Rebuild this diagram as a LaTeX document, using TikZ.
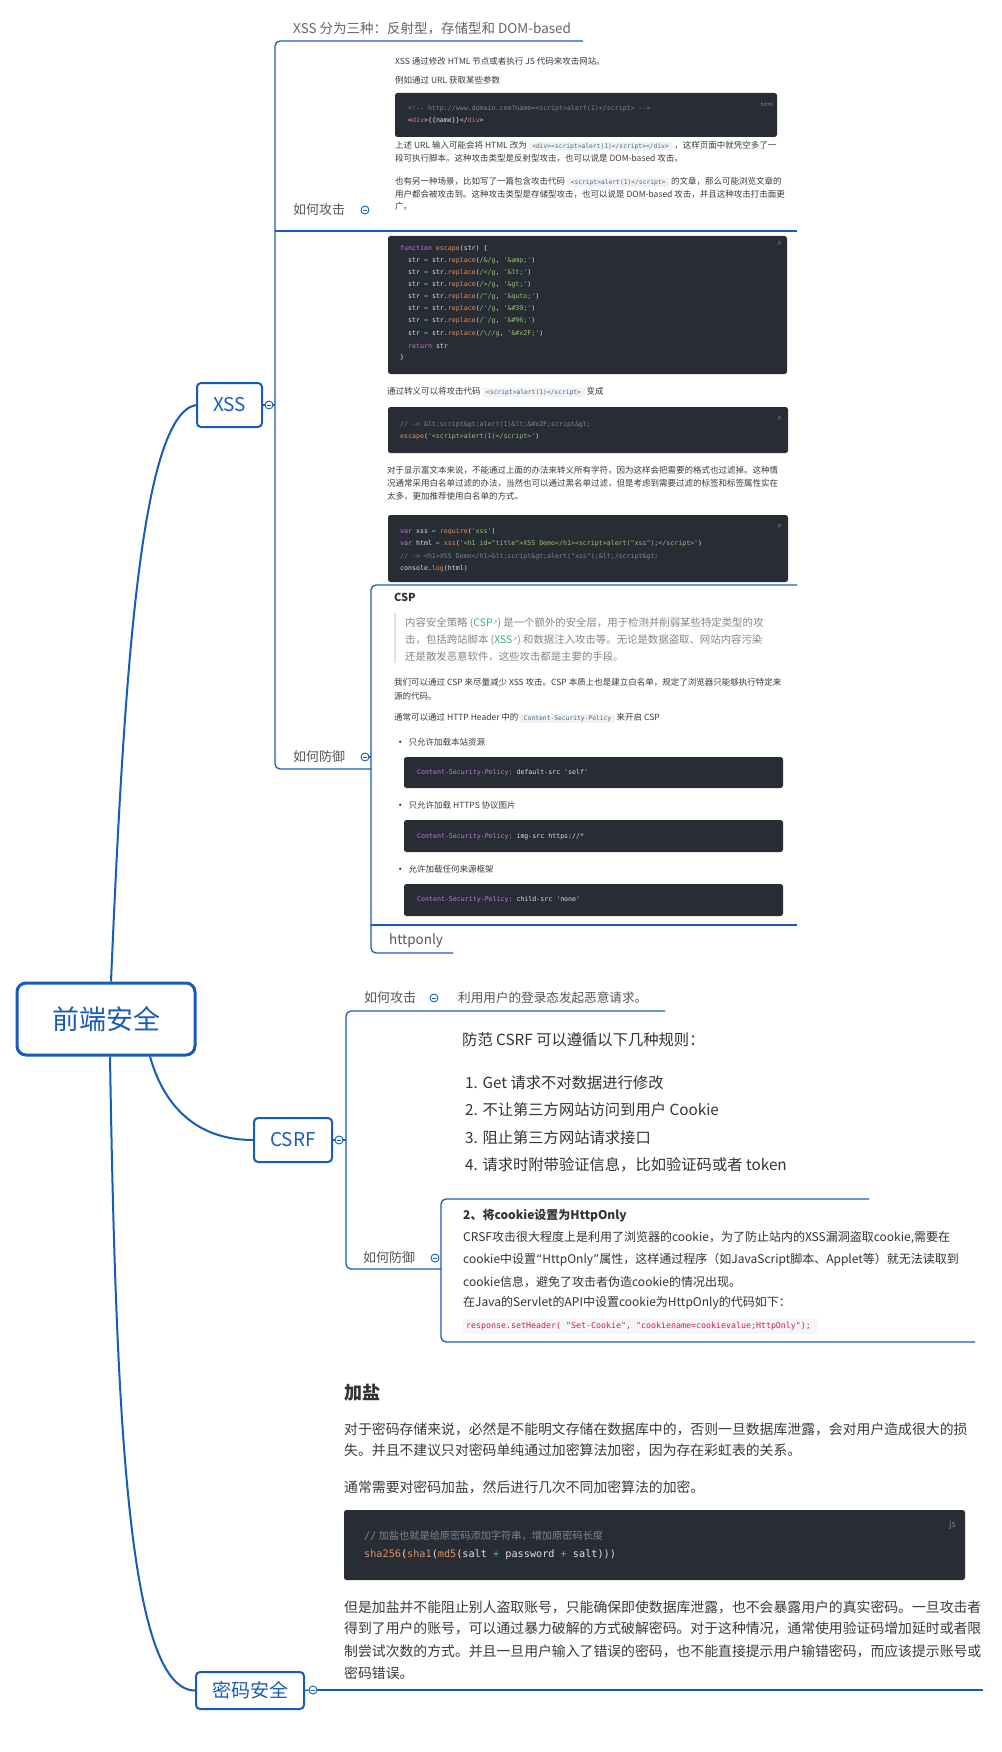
\documentclass[tikz,border=0pt]{standalone}
\usepackage{fontspec}
\setmainfont{Noto Sans CJK SC}
\setmonofont{DejaVu Sans Mono}
\newfontfamily\symfont{DejaVu Sans}

\definecolor{linecol}{HTML}{175CB8}
\definecolor{labelgray}{HTML}{555555}
\definecolor{bodytext}{HTML}{3A3A3A}
\definecolor{darktext}{HTML}{333333}
\definecolor{quotegray}{HTML}{858585}
\definecolor{quotebar}{HTML}{DFE2E5}
\definecolor{linkgreen}{HTML}{3EAF7C}
\definecolor{cbg}{HTML}{282C34}
\definecolor{cpl}{HTML}{DCDFE4}
\definecolor{ccom}{HTML}{7F848E}
\definecolor{ckw}{HTML}{C678DD}
\definecolor{cfn}{HTML}{E0915F}
\definecolor{cstr}{HTML}{98C379}
\definecolor{ctag}{HTML}{E06C75}
\definecolor{cop}{HTML}{56B6C2}
\definecolor{icbg}{HTML}{F1F2F3}
\definecolor{ictext}{HTML}{476582}
\definecolor{hobg}{HTML}{F6F6F6}
\definecolor{hotext}{HTML}{C7254E}

% syntax colouring helpers
\newcommand\hlkw[1]{\textcolor{ckw}{#1}}
\newcommand\hlfn[1]{\textcolor{cfn}{#1}}
\newcommand\hlstr[1]{\textcolor{cstr}{#1}}
\newcommand\hlcom[1]{\textcolor{ccom}{#1}}
\newcommand\hltag[1]{\textcolor{ctag}{#1}}
\newcommand\hlop[1]{\textcolor{cop}{#1}}
% inline code inside prose
\newcommand\icode[1]{{\setlength\fboxsep{1.6pt}\colorbox{icbg}{\hspace{2pt}\ttfamily\fontsize{6.3}{7}\selectfont\color{ictext}#1\hspace{2pt}}}}
% small external-link mark
\newcommand\extlink{{\symfont\fontsize{6}{6}\selectfont\textcolor{quotegray}{\raisebox{1.5pt}{↗}}}}
% narrow quotation marks
\newcommand\openq{{\symfont “}}
\newcommand\closeq{{\symfont ”}}

\tikzset{
  branch/.style={draw=linecol, line width=1.3pt},
  trunk/.style={draw=linecol, line width=2pt},
  rootbox/.style={draw=linecol, line width=3pt, rounded corners=9pt, fill=white,
    text=linecol, inner sep=0pt, font=\fontsize{27}{30}\selectfont},
  topicbox/.style={draw=linecol, line width=2pt, rounded corners=4pt, fill=white,
    text=linecol, inner sep=0pt, font=\fontsize{19}{22}\selectfont},
  toggle/.style={circle, draw=linecol, line width=0.9pt, fill=white, minimum size=8pt,
    inner sep=0pt, path picture={\draw[linecol, line width=0.8pt]
      ([xshift=1.8pt]path picture bounding box.west) --
      ([xshift=-1.8pt]path picture bounding box.east);}},
  tx/.style={anchor=west, inner sep=0pt},
  lbl/.style={tx, text=labelgray, font=\fontsize{13}{15}\selectfont},
  small/.style={tx, text=bodytext, font=\fontsize{8.5}{10}\selectfont},
  quote/.style={tx, text=quotegray, font=\fontsize{10.4}{12}\selectfont},
  codeln/.style={tx, text=cpl, font=\ttfamily\fontsize{6.6}{8}\selectfont},
  codetag/.style={anchor=east, inner sep=0pt, text=ccom, font=\fontsize{5.5}{6}\selectfont},
  codebg/.style={fill=cbg, rounded corners=2.5pt},
  csrftxt/.style={tx, text=darktext, font=\fontsize{15.3}{18}\selectfont},
  hotxt/.style={tx, text=darktext, font=\fontsize{12}{15}\selectfont},
  pwdtxt/.style={tx, text=bodytext, font=\fontsize{13.85}{17}\selectfont},
}

\begin{document}
\begin{tikzpicture}[x=1pt,y=-1pt]
\useasboundingbox (0,0) rectangle (1001,1752);
\fill[white] (0,0) rectangle (1001,1752);

% ---------------- main topics ----------------
\node[rootbox, minimum width=178pt, minimum height=72pt] (root) at (106,1019) {前端安全};
\node[topicbox, minimum width=65pt, minimum height=44pt] (xss) at (229.5,405) {XSS};
\node[topicbox, minimum width=78pt, minimum height=44pt] (csrf) at (293,1140) {CSRF};
\node[topicbox, minimum width=108pt, minimum height=37pt] (pwd) at (250,1690.5) {密码安全};

\node[toggle] (xssT) at (269,405) {};
\node[toggle] (csrfT) at (339,1140) {};
\node[toggle] (pwdT) at (313,1690) {};

% trunk curves from the root
\draw[trunk] ([xshift=5pt]root.north) .. controls (124,680) and (140,415) .. (xss.west);
\draw[trunk] ([xshift=44pt]root.south) .. controls (165,1110) and (200,1140) .. (csrf.west);
\draw[trunk] ([xshift=4pt]root.south) .. controls (116,1420) and (128,1690) .. (pwd.west);

\draw[branch] (xss.east) -- (xssT.west);
\draw[branch] (csrf.east) -- (csrfT.west);
\draw[branch] (pwd.east) -- (pwdT.west);

% ---------------- XSS branch ----------------
\coordinate (xssTop) at (275,41);
\coordinate (xssBot) at (275,769);
\coordinate (xssTypesEnd) at (583,41);
\coordinate (xssDefEnd) at (371,769);
\coordinate (xssAtkL) at (275,231);
\coordinate (xssAtkR) at (797,231);
\draw[branch, rounded corners=5pt] (xssTypesEnd) -- (xssTop) -- (xssBot) -- (xssDefEnd);
\draw[branch] (xssAtkL) -- (xssAtkR);
\draw[branch] (xssT.east) -- (xssT.east -| xssTop);

\node[tx, text=labelgray!90, font=\fontsize{13.5}{15}\selectfont] (xssTypes) at (293,29)
  {XSS 分为三种：反射型，存储型和 DOM-based};
\node[lbl] (xssAtk) at (293,210) {如何攻击};
\node[toggle] (xssAtkT) at (365,210) {};
\node[lbl] (xssDef) at (293,757) {如何防御};
\node[toggle] (xssDefT) at (365,757) {};

% attack notes
\node[small] (a1) at (395,61) {XSS 通过修改 HTML 节点或者执行 JS 代码来攻击网站。};
\node[small] (a2) at (395,80) {例如通过 URL 获取某些参数};
\fill[codebg] (395,93) rectangle (777,137);
\node[codetag] (a3) at (773,104) {html};
\node[codeln] (a4) at (408,109) {\hlcom{<!-{}- http://www.domain.com?name=<script>alert(1)</script> -{}->}};
\node[codeln] (a5) at (408,121) {<\hltag{div}>\{\{name\}\}</\hltag{div}>};
\node[small] (a6) at (395,146) {上述 URL 输入可能会将 HTML 改为 \icode{<div><script>alert(1)</script></div>} ，这样页面中就凭空多了一};
\node[small] (a7) at (395,158) {段可执行脚本。这种攻击类型是反射型攻击，也可以说是 DOM-based 攻击。};
\node[small] (a8) at (395,182) {也有另一种场景，比如写了一篇包含攻击代码 \icode{<script>alert(1)</script>} 的文章，那么可能浏览文章的};
\node[small] (a9) at (395,194) {用户都会被攻击到。这种攻击类型是存储型攻击，也可以说是 DOM-based 攻击，并且这种攻击打击面更};
\node[small] (a10) at (395,206) {广。};

% defence: escaping
\fill[codebg] (388,236) rectangle (787,374);
\node[codetag] (d0) at (782,243) {js};
\node[codeln] (d1) at (400,249) {\hlkw{function} \hlfn{escape}(str) \{};
\node[codeln] (d2) at (408,261) {str \hlop{=} str.\hlfn{replace}(\hlstr{/\&/g}, \hlstr{'\&amp;'})};
\node[codeln] (d3) at (408,273) {str \hlop{=} str.\hlfn{replace}(\hlstr{/</g}, \hlstr{'\&lt;'})};
\node[codeln] (d4) at (408,285) {str \hlop{=} str.\hlfn{replace}(\hlstr{/>/g}, \hlstr{'\&gt;'})};
\node[codeln] (d5) at (408,297) {str \hlop{=} str.\hlfn{replace}(\hlstr{/"/g}, \hlstr{'\&quto;'})};
\node[codeln] (d6) at (408,309) {str \hlop{=} str.\hlfn{replace}(\hlstr{/'/g}, \hlstr{'\&\#39;'})};
\node[codeln] (d7) at (408,321) {str \hlop{=} str.\hlfn{replace}(\hlstr{/`/g}, \hlstr{'\&\#96;'})};
\node[codeln] (d8) at (408,334) {str \hlop{=} str.\hlfn{replace}(\hlstr{/\textbackslash//g}, \hlstr{'\&\#x2F;'})};
\node[codeln] (d9) at (408,346) {\hlkw{return} str};
\node[codeln] (d10) at (400,358) {\}};

\node[small] (d11) at (387,392) {通过转义可以将攻击代码 \icode{<script>alert(1)</script>} 变成};
\fill[codebg] (388,407) rectangle (788,453);
\node[codetag] (d12) at (782,418) {js};
\node[codeln] (d13) at (400,425) {\hlcom{// -> \&lt;script\&gt;alert(1)\&lt;\&\#x2F;script\&gt;}};
\node[codeln] (d14) at (400,437) {\hlfn{escape}(\hlstr{'<script>alert(1)</script>'})};
\node[small] (d15) at (387,470) {对于显示富文本来说，不能通过上面的办法来转义所有字符，因为这样会把需要的格式也过滤掉。这种情};
\node[small] (d16) at (387,483) {况通常采用白名单过滤的办法，当然也可以通过黑名单过滤，但是考虑到需要过滤的标签和标签属性实在};
\node[small] (d17) at (387,496) {太多，更加推荐使用白名单的方式。};
\fill[codebg] (388,515) rectangle (788,582);
\node[codetag] (d18) at (782,526) {js};
\node[codeln] (d19) at (400,532) {\hlkw{var} xss \hlop{=} \hlfn{require}(\hlstr{'xss'})};
\node[codeln] (d20) at (400,544) {\hlkw{var} html \hlop{=} \hlfn{xss}(\hlstr{'<h1 id="title">XSS Demo</h1><script>alert("xss");</script>'})};
\node[codeln] (d21) at (400,557) {\hlcom{// -> <h1>XSS Demo</h1>\&lt;script\&gt;alert("xss");\&lt;/script\&gt;}};
\node[codeln] (d22) at (400,569) {console.\hlfn{log}(html)};

% defence sub-bracket
\coordinate (cspTop) at (371,585);
\coordinate (cspBot) at (371,953);
\coordinate (escEnd) at (797,585);
\coordinate (httpEnd) at (453,953);
\coordinate (cspL) at (371,925);
\coordinate (cspR) at (797,925);
\draw[branch, rounded corners=5pt] (escEnd) -- (cspTop) -- (cspBot) -- (httpEnd);
\draw[branch] (cspL) -- (cspR);
\draw[branch] (xssDefT.east) -- (xssDefT.east -| cspTop);

% CSP notes
\node[tx, text=darktext, font=\bfseries\fontsize{11}{12}\selectfont] (c1) at (394,597) {CSP};
\fill[quotebar] (394,613) rectangle (396,663);
\node[quote] (c2) at (405,623) {内容安全策略 (\textcolor{linkgreen}{CSP}\extlink) 是一个额外的安全层，用于检测并削弱某些特定类型的攻};
\node[quote] (c3) at (405,640) {击，包括跨站脚本 (\textcolor{linkgreen}{XSS}\extlink) 和数据注入攻击等。无论是数据盗取、网站内容污染};
\node[quote] (c4) at (405,657) {还是散发恶意软件，这些攻击都是主要的手段。};
\node[small] (c5) at (394,682) {我们可以通过 CSP 来尽量减少 XSS 攻击。CSP 本质上也是建立白名单，规定了浏览器只能够执行特定来};
\node[small] (c6) at (394,696) {源的代码。};
\node[small] (c7) at (394,718) {通常可以通过 HTTP Header 中的 \icode{Content-Security-Policy} 来开启 CSP};
\node[small] (c8) at (396,742) {\textbf{•}\hspace{4pt}只允许加载本站资源};
\fill[codebg] (404,757) rectangle (783,788);
\node[codeln] (c9) at (417,773) {\hlkw{Content-Security-Policy:} default-src 'self'};
\node[small] (c10) at (396,805) {\textbf{•}\hspace{4pt}只允许加载 HTTPS 协议图片};
\fill[codebg] (404,820) rectangle (783,852);
\node[codeln] (c11) at (417,837) {\hlkw{Content-Security-Policy:} img-src https://*};
\node[small] (c12) at (396,869) {\textbf{•}\hspace{4pt}允许加载任何来源框架};
\fill[codebg] (404,884) rectangle (783,916);
\node[codeln] (c13) at (417,900) {\hlkw{Content-Security-Policy:} child-src 'none'};
\node[tx, text=labelgray, font=\fontsize{13.5}{15}\selectfont] (httponly) at (389,941) {httponly};

% ---------------- CSRF branch ----------------
\coordinate (csrfTop) at (346,1011);
\coordinate (csrfBot) at (346,1269);
\coordinate (csrfAtkEnd) at (665,1011);
\coordinate (csrfDefEnd) at (441,1269);
\draw[branch, rounded corners=5pt] (csrfAtkEnd) -- (csrfTop) -- (csrfBot) -- (csrfDefEnd);
\draw[branch] (csrfT.east) -- (csrfT.east -| csrfTop);

\node[lbl] (csrfAtk) at (364,998) {如何攻击};
\node[toggle] (csrfAtkT) at (434,998) {};
\node[tx, text=labelgray, font=\fontsize{12.6}{15}\selectfont] (csrfHow) at (458,998) {利用用户的登录态发起恶意请求。};
\node[lbl] (csrfDef) at (363,1258) {如何防御};
\node[toggle] (csrfDefT) at (435,1258) {};

\coordinate (ruleTop) at (441,1199);
\coordinate (ruleBot) at (441,1342);
\coordinate (ruleEnd) at (869,1199);
\coordinate (hoEnd) at (975,1342);
\draw[branch, rounded corners=5pt] (ruleEnd) -- (ruleTop) -- (ruleBot) -- (hoEnd);

\node[csrftxt] (r0) at (462,1040) {防范 CSRF 可以遵循以下几种规则：};
\node[csrftxt] (r1) at (465,1083) {1. Get 请求不对数据进行修改};
\node[csrftxt] (r2) at (465,1110) {2. 不让第三方网站访问到用户 Cookie};
\node[csrftxt] (r3) at (465,1138) {3. 阻止第三方网站请求接口};
\node[csrftxt] (r4) at (465,1165) {4. 请求时附带验证信息，比如验证码或者 token};

\node[hotxt, font=\bfseries\fontsize{12}{15}\selectfont] (h1) at (463,1216) {2、将cookie设置为HttpOnly};
\node[hotxt] (h2) at (463,1238) {CRSF攻击很大程度上是利用了浏览器的cookie，为了防止站内的XSS漏洞盗取cookie,需要在};
\node[hotxt] (h3) at (463,1260) {cookie中设置\openq HttpOnly\closeq 属性，这样通过程序（如JavaScript脚本、Applet等）就无法读取到};
\node[hotxt] (h4) at (463,1282) {cookie信息，避免了攻击者伪造cookie的情况出现。};
\node[hotxt] (h5) at (463,1303) {在Java的Servlet的API中设置cookie为HttpOnly的代码如下：};
\fill[hobg] (463,1319) rectangle (818,1334);
\node[tx, text=hotext, font=\ttfamily\fontsize{8.3}{10}\selectfont] (h6) at (466,1326.5)
  {response.setHeader( "Set-Cookie", "cookiename=cookievalue;HttpOnly");};

% ---------------- password branch ----------------
\coordinate (pwdEnd) at (983,1690);
\draw[branch] (pwdT.east) -- (pwdEnd);

\node[tx, text=darktext, font=\bfseries\fontsize{18}{20}\selectfont] (p0) at (344,1393) {加盐};
\node[pwdtxt] (p1) at (344,1429) {对于密码存储来说，必然是不能明文存储在数据库中的，否则一旦数据库泄露，会对用户造成很大的损};
\node[pwdtxt] (p2) at (344,1450) {失。并且不建议只对密码单纯通过加密算法加密，因为存在彩虹表的关系。};
\node[pwdtxt] (p3) at (344,1487) {通常需要对密码加盐，然后进行几次不同加密算法的加密。};
\fill[codebg] (344,1510) rectangle (965,1580);
\node[codetag, font=\fontsize{9}{10}\selectfont] (p4) at (956,1525) {js};
\node[tx, text=ccom, font=\fontsize{10.2}{12}\selectfont] (p5) at (364,1536) {{\ttfamily //} 加盐也就是给原密码添加字符串，增加原密码长度};
\node[tx, text=cpl, font=\ttfamily\fontsize{10.2}{12}\selectfont] (p6) at (364,1555)
  {\hlfn{sha256}(\hlfn{sha1}(\hlfn{md5}(salt \hlop{+} password \hlop{+} salt)))};
\node[pwdtxt] (p7) at (344,1607) {但是加盐并不能阻止别人盗取账号，只能确保即使数据库泄露，也不会暴露用户的真实密码。一旦攻击者};
\node[pwdtxt] (p8) at (344,1628) {得到了用户的账号，可以通过暴力破解的方式破解密码。对于这种情况，通常使用验证码增加延时或者限};
\node[pwdtxt] (p9) at (344,1651) {制尝试次数的方式。并且一旦用户输入了错误的密码，也不能直接提示用户输错密码，而应该提示账号或};
\node[pwdtxt] (p10) at (344,1673) {密码错误。};
\end{tikzpicture}
\end{document}
